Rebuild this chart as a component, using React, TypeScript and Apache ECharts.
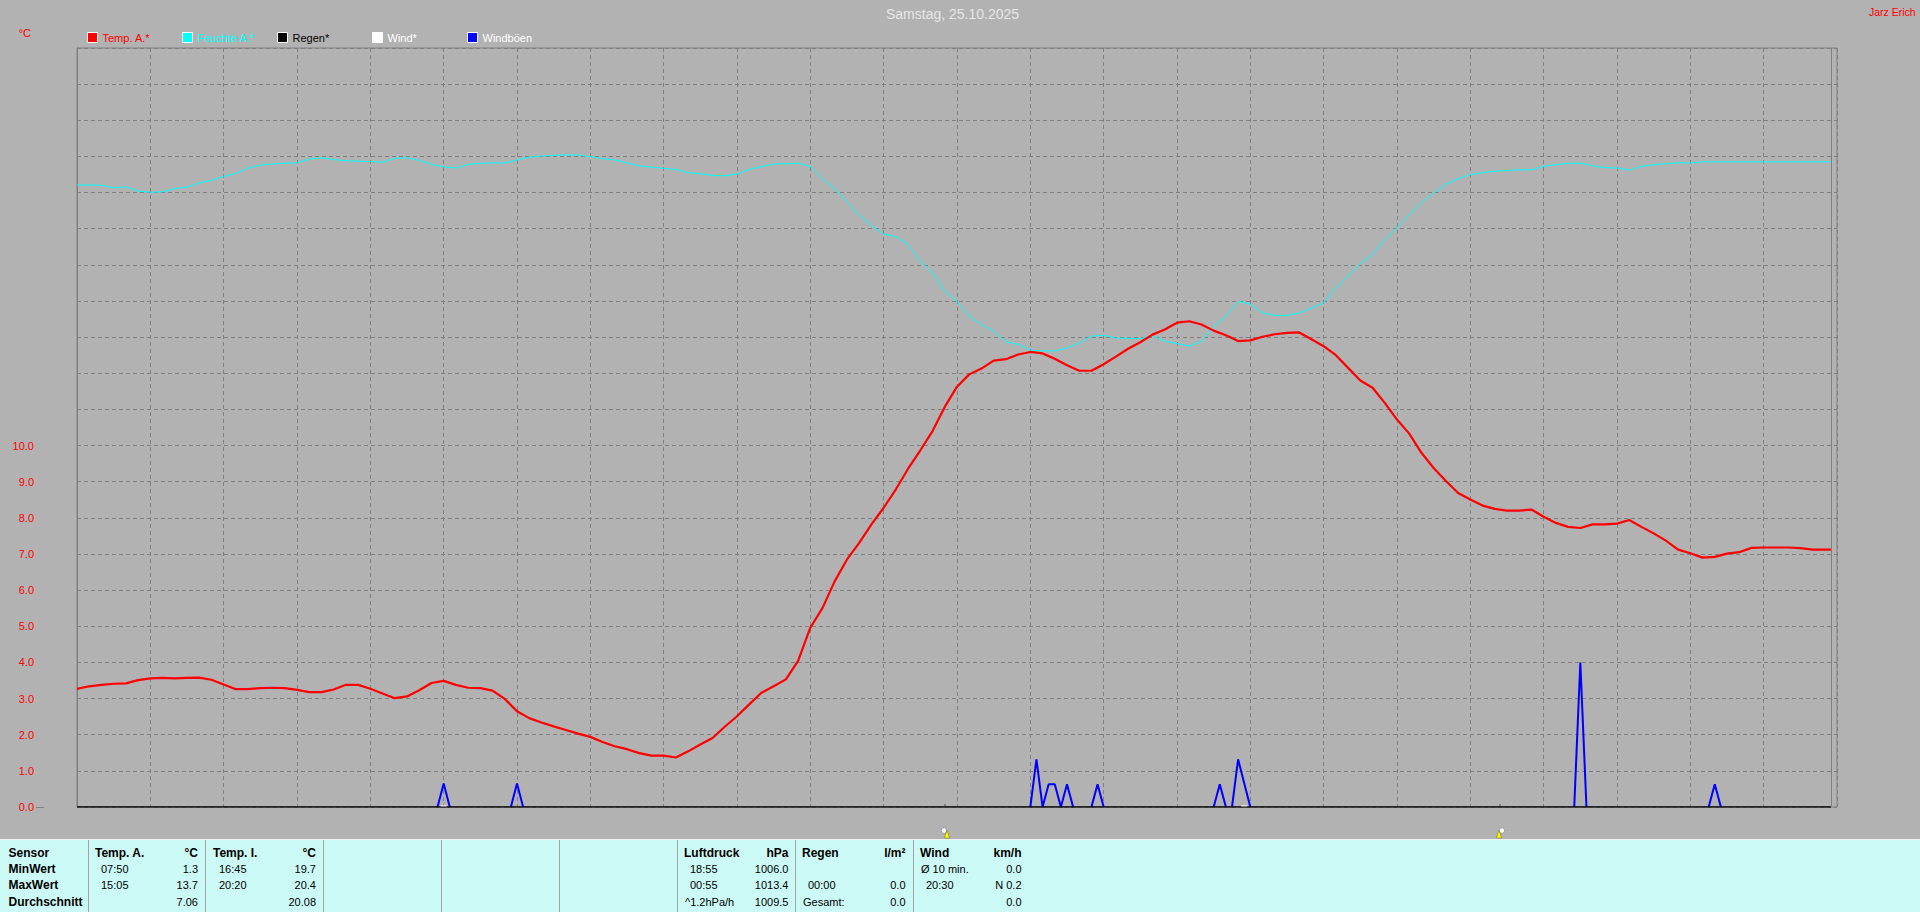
import React, { useEffect, useRef } from "react";
import * as echarts from "echarts";

const titleText = "Samstag, 25.10.2025";
const authorText = "Jarz Erich";
const unitText = "°C";
const yTickValues = [0, 1, 2, 3, 4, 5, 6, 7, 8, 9, 10];

// Samples every 10 minutes (one row per hour), last value is 23:55.
const tempValues = [
  3.27, 3.34, 3.38, 3.41, 3.42, 3.51,
  3.56, 3.57, 3.56, 3.57, 3.58, 3.52,
  3.39, 3.26, 3.26, 3.29, 3.30, 3.29,
  3.24, 3.18, 3.18, 3.25, 3.38, 3.38,
  3.27, 3.14, 3.01, 3.06, 3.23, 3.43,
  3.49, 3.38, 3.30, 3.29, 3.22, 2.99,
  2.65, 2.46, 2.34, 2.23, 2.13, 2.03,
  1.94, 1.80, 1.68, 1.60, 1.49, 1.42,
  1.42, 1.37, 1.54, 1.73, 1.91, 2.22,
  2.51, 2.84, 3.16, 3.34, 3.53, 4.04,
  4.96, 5.51, 6.25, 6.85, 7.31, 7.82,
  8.28, 8.79, 9.36, 9.87, 10.40, 11.07,
  11.63, 11.97, 12.13, 12.35, 12.39, 12.52,
  12.59, 12.55, 12.40, 12.22, 12.07, 12.07,
  12.25, 12.46, 12.68, 12.86, 13.07, 13.21,
  13.40, 13.44, 13.35, 13.18, 13.05, 12.89,
  12.91, 13.01, 13.08, 13.12, 13.13, 12.94,
  12.75, 12.50, 12.15, 11.80, 11.60, 11.18,
  10.72, 10.33, 9.80, 9.38, 9.02, 8.69,
  8.51, 8.34, 8.25, 8.20, 8.20, 8.23,
  8.03, 7.86, 7.75, 7.72, 7.82, 7.82,
  7.84, 7.94, 7.75, 7.57, 7.37, 7.12,
  7.02, 6.90, 6.92, 7.01, 7.05, 7.17,
  7.18, 7.18, 7.18, 7.16, 7.12, 7.12,
  7.12,
];

// Humidity as plotted against the chart's unlabelled scale.
const humidityValues = [
  17.21, 17.21, 17.20, 17.13, 17.16, 17.04,
  17.01, 17.02, 17.11, 17.15, 17.27, 17.34,
  17.45, 17.53, 17.68, 17.76, 17.79, 17.81,
  17.82, 17.93, 17.96, 17.91, 17.88, 17.87,
  17.86, 17.84, 17.95, 17.96, 17.89, 17.78,
  17.71, 17.68, 17.78, 17.81, 17.82, 17.82,
  17.90, 17.98, 18.01, 18.03, 18.04, 18.04,
  17.99, 17.94, 17.90, 17.82, 17.74, 17.70,
  17.67, 17.64, 17.55, 17.52, 17.47, 17.47,
  17.51, 17.64, 17.72, 17.79, 17.80, 17.81,
  17.72, 17.38, 17.10, 16.74, 16.37, 16.09,
  15.85, 15.78, 15.56, 15.10, 14.78, 14.27,
  13.99, 13.58, 13.35, 13.16, 12.87, 12.80,
  12.64, 12.62, 12.62, 12.70, 12.84, 13.03,
  13.05, 12.97, 12.97, 12.96, 13.03, 12.89,
  12.82, 12.75, 12.89, 13.30, 13.58, 13.99,
  13.91, 13.67, 13.60, 13.60, 13.67, 13.81,
  13.95, 14.37, 14.69, 15.03, 15.29, 15.70,
  16.03, 16.38, 16.72, 16.99, 17.24, 17.38,
  17.50, 17.55, 17.59, 17.61, 17.63, 17.63,
  17.73, 17.77, 17.81, 17.81, 17.74, 17.69,
  17.68, 17.62, 17.73, 17.77, 17.80, 17.82,
  17.82, 17.85, 17.85, 17.85, 17.85, 17.85,
  17.85, 17.85, 17.85, 17.85, 17.85, 17.85,
  17.85,
];

// Five-minute slot numbers (0 = 00:00, 287 = 23:55); null breaks the line between gusts.
const gustSlots = [59, 60, 61, 65, 71, 72, 73, 100, 156, 157, 158, 159, 160, 161, 162, 163, 164, 166, 167, 168, 180, 186, 187, 188, 188.5, 189, 190, 191, 192, 200, 245, 246, 247, 255, 267, 268, 269];
const gustValues = [0, 0.65, 0, null, 0, 0.65, 0, null, 0, 1.32, 0, 0.63, 0.63, 0, 0.63, 0, null, 0, 0.63, 0, null, 0, 0.63, 0, null, 0, 1.32, 0.66, 0, null, 0, 4.0, 0, null, 0, 0.63, 0];
const rainSlots = [0, 287];
const rainValues = [0, 0];
const windSlots = [59.5, 60.5, 125, 190.5, 191.5];
const windValues = [0.03, 0.03, null, 0.03, 0.03];

const SLOTS_PER_SAMPLE = 2;
const LAST_SLOT = 287;
const sampled = (values: number[]) => values.map((v, k) => [Math.min(k * SLOTS_PER_SAMPLE, LAST_SLOT), v]);
const paired = (slots: number[], values: (number | null)[]) => slots.map((s, k) => [s, values[k]]);

const legendNames = ["Temp. A.*", "Feuchte A.*", "Regen*", "Wind*", "Windböen"];
const legendColors = ["#ff0000", "#00ffff", "#000000", "#ffffff", "#0000ff"];
const legendTextColors = ["#ff0000", "#00ffff", "#000000", "#ffffff", "#ffffff"];
const legendLefts = [87, 182, 277, 372, 467];

// Table columns: [header, unit], then rows of [left text, right text].
const sensorLabels = ["Sensor", "MinWert", "MaxWert", "Durchschnitt"];
const tableColumns = [
  { head: "Temp. A.", unit: "°C", left: ["07:50", "15:05", ""], right: ["1.3", "13.7", "7.06"] },
  { head: "Temp. I.", unit: "°C", left: ["16:45", "20:20", ""], right: ["19.7", "20.4", "20.08"] },
  { head: "Luftdruck", unit: "hPa", left: ["18:55", "00:55", "^1.2hPa/h"], right: ["1006.0", "1013.4", "1009.5"] },
  { head: "Regen", unit: "l/m²", left: ["", "00:00", "Gesamt:"], right: ["", "0.0", "0.0"] },
  { head: "Wind", unit: "km/h", left: ["Ø 10 min.", "20:30", ""], right: ["0.0", "N 0.2", "0.0"] },
];
const columnLeft = [95, 213, 684, 802, 920];
const columnRight = [198, 316, 788.5, 905.5, 1021.5];
const separatorXs = [88, 205, 323, 441, 559, 677, 795, 913];
const rowYs = [853, 869, 885, 902];

const sunMarks = [
  { tick: 945, circle: 944, arrow: 947 },
  { tick: 1500, circle: 1502, arrow: 1499 },
];

const tableGraphics = () => {
  const out: any[] = [
    { type: "rect", shape: { x: 0, y: 840, width: 1920, height: 72 }, style: { fill: "#ccfaf6" } },
    { type: "line", shape: { x1: 0, y1: 839.5, x2: 1920, y2: 839.5 }, style: { stroke: "#f2f2f2", lineWidth: 1 } },
  ];
  separatorXs.forEach((x) =>
    out.push({ type: "rect", shape: { x, y: 840, width: 1, height: 72 }, style: { fill: "#a3a3a3" } })
  );
  const txt = (text: string, x: number, y: number, align: string, bold: boolean) => ({
    type: "text",
    x,
    y,
    style: {
      text,
      fill: "#000000",
      align,
      verticalAlign: "middle",
      font: `${bold ? "bold 12px" : "11px"} "Liberation Sans", Arial, sans-serif`,
    },
  });
  sensorLabels.forEach((t, r) => out.push(txt(t, 8.5, rowYs[r], "left", true)));
  tableColumns.forEach((c, i) => {
    out.push(txt(c.head, columnLeft[i], rowYs[0], "left", true));
    out.push(txt(c.unit, columnRight[i], rowYs[0], "right", true));
    c.left.forEach((t, r) => {
      if (!t) return;
      const inset = /^\d/.test(t) ? 6 : 1;
      out.push(txt(t, columnLeft[i] + inset, rowYs[r + 1], "left", false));
    });
    c.right.forEach((t, r) => {
      if (t) out.push(txt(t, columnRight[i], rowYs[r + 1], "right", false));
    });
  });
  sunMarks.forEach((m) => {
    out.push({ type: "rect", shape: { x: m.tick - 1, y: 804, width: 2, height: 3 }, style: { fill: "#808080" } });
    out.push({ type: "circle", shape: { cx: m.circle, cy: 830.5, r: 2.5 }, style: { fill: "#ffffff", stroke: "#5050a0", lineWidth: 0.6, lineDash: [1, 1] } });
    out.push({
      type: "polygon",
      shape: { points: [[m.arrow, 830], [m.arrow + 2.5, 838], [m.arrow - 2.5, 838]] },
      style: { fill: "#ffff00", stroke: "#707000", lineWidth: 0.5 },
    });
  });
  out.push({ type: "line", shape: { x1: 36, y1: 807.5, x2: 44, y2: 807.5 }, style: { stroke: "#808080", lineWidth: 1 } });
  return out;
};

const App = () => {
  const ref = useRef<HTMLDivElement>(null);
  useEffect(() => {
    document.body.style.margin = "0";
    const chart = echarts.init(ref.current!, null, { renderer: "svg" });
    const font = '"Liberation Sans", Arial, sans-serif';
    chart.setOption({
      animation: false,
      backgroundColor: "#b2b2b2",
      title: [
        { text: titleText, left: 886, top: 7, padding: 0, textStyle: { color: "#e6e6e6", fontSize: 14, fontWeight: "normal", fontFamily: font } },
        { text: authorText, left: 1869, top: 6, padding: 0, textStyle: { color: "#ff0000", fontSize: 10.5, fontWeight: "normal", fontFamily: font } },
      ],
      legend: legendNames.map((name, i) => ({
        data: [{ name, icon: "rect", itemStyle: { color: legendColors[i], borderColor: "#ffffff", borderWidth: 1 } }],
        left: legendLefts[i],
        top: 32,
        itemWidth: 10,
        itemHeight: 10,
        padding: 0,
        selectedMode: false,
        textStyle: { color: legendTextColors[i], fontSize: 11, fontFamily: font },
      })),
      grid: { left: 77, top: 48, width: 1760, height: 759, show: true, borderColor: "#808080", borderWidth: 1, backgroundColor: "transparent", containLabel: false },
      xAxis: {
        type: "value",
        min: 0,
        max: 288,
        interval: 12,
        axisLine: { show: false },
        axisTick: { show: false },
        axisLabel: { show: false },
        splitLine: { show: true, lineStyle: { color: "#808080", type: [4, 3], width: 1 } },
      },
      yAxis: {
        type: "value",
        min: 0,
        max: 21,
        interval: 1,
        offset: 37,
        name: unitText,
        nameLocation: "end",
        nameGap: 10,
        nameTextStyle: { color: "#ff0000", fontSize: 11, fontFamily: font, align: "right", padding: [0, 46, 0, 0] },
        axisLine: { show: true, lineStyle: { color: "#808080", width: 1 } },
        axisTick: { show: false },
        axisLabel: {
          color: "#ff0000",
          fontSize: 11,
          fontFamily: font,
          margin: 6,
          padding: [2, 0, 0, 0],
          customValues: yTickValues,
          formatter: (v: number) => v.toFixed(1),
        },
        splitLine: { show: true, lineStyle: { color: "#808080", type: [4, 3], width: 1 } },
      },
      series: [
        {
          name: "Windböen", type: "line", symbol: "none", data: paired(gustSlots, gustValues), connectNulls: false,
          lineStyle: { color: "#0000ff", width: 2 }, itemStyle: { color: "#0000ff" }, z: 2,
          markLine: {
            silent: true, symbol: "none", label: { show: false },
            lineStyle: { color: "#808080", type: "solid", width: 1 },
            data: [{ xAxis: LAST_SLOT }],
          },
        },
        { name: "Regen*", type: "line", symbol: "none", data: paired(rainSlots, rainValues), lineStyle: { color: "#000000", width: 1.5 }, itemStyle: { color: "#000000" }, z: 3 },
        { name: "Wind*", type: "line", symbol: "none", data: paired(windSlots, windValues), connectNulls: false, lineStyle: { color: "#ffffff", width: 1 }, itemStyle: { color: "#ffffff" }, z: 4 },
        { name: "Feuchte A.*", type: "line", symbol: "none", data: sampled(humidityValues), lineStyle: { color: "#00ffff", width: 1 }, itemStyle: { color: "#00ffff" }, z: 5 },
        { name: "Temp. A.*", type: "line", symbol: "none", data: sampled(tempValues), lineStyle: { color: "#ff0000", width: 2.2 }, itemStyle: { color: "#ff0000" }, z: 6 },
      ],
      graphic: tableGraphics(),
    });
    return () => chart.dispose();
  }, []);
  return <div ref={ref} style={{ position: "absolute", left: 0, top: 0, width: 1920, height: 912, overflow: "hidden" }} />;
};

export default App;
